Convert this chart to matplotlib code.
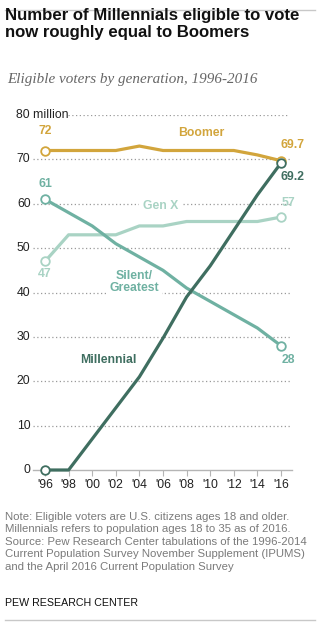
import matplotlib
matplotlib.use("Agg")
import matplotlib.pyplot as plt
from matplotlib.transforms import blended_transform_factory

years = [1996, 1998, 2000, 2002, 2004, 2006, 2008, 2010, 2012, 2014, 2016]
boomer = [72, 72, 72, 72, 73, 72, 72, 72, 72, 71, 69.7]
genx = [47, 53, 53, 53, 55, 55, 56, 56, 56, 56, 57]
silent = [61, 58, 55, 51, 48, 45, 41, 38, 35, 32, 28]
millennial = [0, 0, 7, 14, 21, 29.7, 39, 46, 54, 62, 69.2]
xtick_labels = ["'96", "'98", "'00", "'02", "'04", "'06", "'08", "'10", "'12", "'14", "'16"]
yticks = [0, 10, 20, 30, 40, 50, 60, 70, 80]

C_BOOM = '#d2a53c'
C_GENX = '#a9d3c4'
C_SIL = '#6fb1a2'
C_MIL = '#3f6e60'

plt.rcParams['font.family'] = ['Liberation Sans', 'DejaVu Sans']

W, H = 328, 633
fig = plt.figure(figsize=(W / 100, H / 100), dpi=100)

def fx(px):
    return px / W

def fy(py):
    return 1 - py / H

ax_left, ax_right, ax_top, ax_bot = 33, 292, 115, 470
ax = fig.add_axes([fx(ax_left), fy(ax_bot), fx(ax_right - ax_left), (ax_bot - ax_top) / H])
ppy = (281 - 45) / 20.0
ax.set_xlim(1996 - (45 - ax_left) / ppy, 2016 + (ax_right - 281) / ppy)
ax.set_ylim(0, 80)

for s in ['top', 'right', 'left']:
    ax.spines[s].set_visible(False)
ax.spines['bottom'].set_color('#b5b5b5')
ax.spines['bottom'].set_linewidth(1)

for v in yticks[1:]:
    if v == 80:
        ax.axhline(v, xmin=(68 - ax_left) / (ax_right - ax_left), xmax=(288 - ax_left) / (ax_right - ax_left),
                   color='#9a9a9a', lw=0.9, ls=(0, (1, 2)), zorder=1)
    else:
        ax.axhline(v, color='#9a9a9a', lw=0.9, ls=(0, (1, 2)), zorder=1)

ax.set_yticks([])
ax.set_xticks(years)
ax.set_xticklabels(xtick_labels, fontsize=8.8, color='#222222')
ax.tick_params(axis='x', length=4.5, width=0.8, color='#b5b5b5', pad=2)

tr = blended_transform_factory(fig.transFigure, ax.transData)
for v in yticks:
    if v == 80:
        ax.text(fx(16), v, '80 million', transform=tr, ha='left', va='center', fontsize=8.8, color='#222222')
    else:
        ax.text(fx(30.5), v, str(v), transform=tr, ha='right', va='center', fontsize=8.8, color='#222222')

lw = 2.3
series = [(boomer, C_BOOM, 3), (genx, C_GENX, 3), (silent, C_SIL, 4), (millennial, C_MIL, 5)]
for vals, c, z in series:
    ax.plot(years, vals, color=c, lw=lw, zorder=z, solid_capstyle='butt', solid_joinstyle='round', clip_on=False)
    ax.plot([years[0], years[-1]], [vals[0], vals[-1]], ls='none', marker='o', ms=6.2,
            mfc='white', mec=c, mew=1.3, zorder=z + 0.5, clip_on=False)

fs = 8.8
ax.text(2009.2, 75.9, 'Boomer', color=C_BOOM, fontsize=fs, fontweight='bold', ha='center', va='center', zorder=6)
ax.text(2005.8, 59.6, 'Gen X', color=C_GENX, fontsize=fs, fontweight='bold', ha='center', va='center', zorder=2,
        bbox=dict(boxstyle='square,pad=0.3', fc='white', ec='none'))
ax.text(2003.55, 42.4, 'Silent/\nGreatest', color=C_SIL, fontsize=fs, fontweight='bold', ha='center', va='center',
        zorder=2, linespacing=1.05, bbox=dict(boxstyle='square,pad=0.25', fc='white', ec='none'))
ax.text(2001.4, 24.8, 'Millennial', color=C_MIL, fontsize=fs, fontweight='bold', ha='center', va='center', zorder=6)

ax.text(1996, 76.4, '72', color=C_BOOM, fontsize=fs, fontweight='bold', ha='center', va='center', zorder=6)
ax.text(1996, 64.4, '61', color=C_SIL, fontsize=fs, fontweight='bold', ha='center', va='center', zorder=6)
ax.text(1996, 44.2, '47', color=C_GENX, fontsize=fs, fontweight='bold', ha='center', va='center', zorder=6)
ax.text(2016.95, 73.3, '69.7', color=C_BOOM, fontsize=fs, fontweight='bold', ha='center', va='center', zorder=6)
ax.text(2016.95, 66.1, '69.2', color=C_MIL, fontsize=fs, fontweight='bold', ha='center', va='center', zorder=6)
ax.text(2016.6, 60.2, '57', color=C_GENX, fontsize=fs, fontweight='bold', ha='center', va='center', zorder=6)
ax.text(2016.6, 24.7, '28', color=C_SIL, fontsize=fs, fontweight='bold', ha='center', va='center', zorder=6)

fig.add_artist(plt.Line2D([fx(5), fx(315)], [fy(9.5), fy(9.5)], color='#c8c8c8', lw=1))
fig.add_artist(plt.Line2D([fx(5), fx(315)], [fy(619.5), fy(619.5)], color='#c8c8c8', lw=1))

fig.text(fx(5), fy(37), 'Number of Millennials eligible to vote\nnow roughly equal to Boomers',
         fontsize=12.1, fontweight='bold', color='#111111', ha='left', va='baseline', linespacing=1.15)
fig.text(fx(7), fy(83), 'Eligible voters by generation, 1996-2016', family=['Liberation Serif', 'DejaVu Serif'],
         style='italic', fontsize=10.9, color='#666666', ha='left', va='baseline')

note = ("Note: Eligible voters are U.S. citizens ages 18 and older.\n"
        "Millennials refers to population ages 18 to 35 as of 2016.\n"
        "Source: Pew Research Center tabulations of the 1996-2014\n"
        "Current Population Survey November Supplement (IPUMS)\n"
        "and the April 2016 Current Population Survey")
fig.text(fx(5), fy(512), note, fontsize=8.2, color='#7a7a7a', ha='left', va='top', linespacing=1.3)
fig.text(fx(5), fy(606), 'PEW RESEARCH CENTER', fontsize=7.7, color='#111111', ha='left', va='baseline')

fig.savefig('out.png', dpi=100, facecolor='white')
